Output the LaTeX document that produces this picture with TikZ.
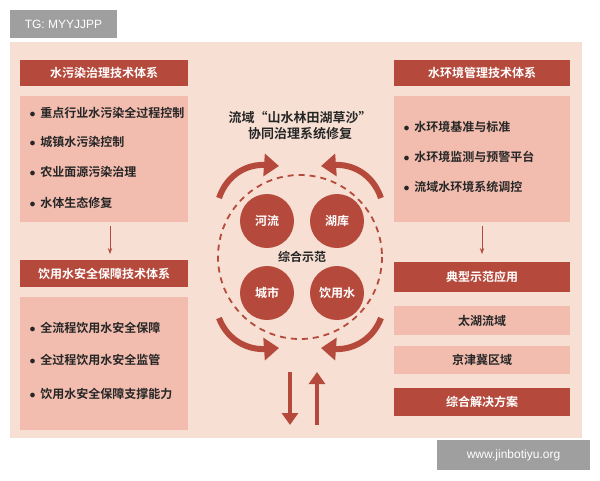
\documentclass[tikz,border=0pt]{standalone}
\usepackage{fontspec}
\setmainfont{Liberation Sans}
\newfontfamily\cjk{Noto Sans CJK SC}[BoldFont={Noto Sans CJK SC Bold}]
\usetikzlibrary{arrows.meta}
\definecolor{darkred}{HTML}{B54A3C}
\definecolor{pinkbox}{HTML}{F2BDAF}
\definecolor{panel}{HTML}{F7E0D3}
\tikzset{
  head/.style={fill=darkred, text=white, font=\cjk\bfseries\fontsize{12}{14}\selectfont},
  item/.style={anchor=west, font=\cjk\bfseries\fontsize{12}{14}\selectfont, text=black!85},
  spot/.style={circle, fill=darkred, minimum size=54pt, inner sep=0pt, text=white, font=\cjk\bfseries\fontsize{12}{14}\selectfont},
  turn/.style={darkred, line width=6pt, -{Triangle[length=15pt,width=22pt]}},
  link/.style={darkred, line width=1pt, -{Stealth[length=6pt]}}
}
\begin{document}
\begin{tikzpicture}[x=1pt,y=-1pt]
    \useasboundingbox (0,0) rectangle (600,480);
    \fill[white] (0,0) rectangle (600,480);
    % Panel and tags
    \fill[panel] (10,42) rectangle (582,438);
    \fill[gray!75] (10,10) rectangle (117,38);
    \node[text=white, font=\fontsize{12}{14}\selectfont] (tag) at (63.5,24) {TG: MYYJJPP};
    \fill[gray!75] (437,440) rectangle (590,470);
    \node[text=white, font=\fontsize{12}{14}\selectfont] (site) at (513.5,455) {www.jinbotiyu.org};

    % Left column
    \fill[darkred] (20,60) rectangle (188,86);
    \node[head, fill=none] (lh1) at (104,73) {水污染治理技术体系};
    \fill[pinkbox] (20,96) rectangle (188,222);
    \foreach \y/\t in {113/重点行业水污染全过程控制, 142/城镇水污染控制, 172/农业面源污染治理, 203/水体生态修复} {
        \node[item] at (26,\y) {$\bullet$\, \t};
    }
    \coordinate (la) at (110,226);
    \coordinate (lb) at (110,254);
    \draw[link] (la) -- (lb);
    \fill[darkred] (20,260) rectangle (188,287);
    \node[head, fill=none] (lh2) at (104,273.5) {饮用水安全保障技术体系};
    \fill[pinkbox] (20,297) rectangle (188,430);
    \foreach \y/\t in {328/全流程饮用水安全保障, 360/全过程饮用水安全监管, 394/饮用水安全保障支撑能力} {
        \node[item] at (26,\y) {$\bullet$\, \t};
    }

    % Right column
    \fill[darkred] (394,60) rectangle (570,86);
    \node[head, fill=none] (rh1) at (482,73) {水环境管理技术体系};
    \fill[pinkbox] (394,96) rectangle (570,222);
    \foreach \y/\t in {127/水环境基准与标准, 157/水环境监测与预警平台, 187/流域水环境系统调控} {
        \node[item] at (400,\y) {$\bullet$\, \t};
    }
    \coordinate (ra) at (482,226);
    \coordinate (rb) at (482,254);
    \draw[link] (ra) -- (rb);
    \fill[darkred] (394,262) rectangle (570,292);
    \node[head, fill=none] (rh2) at (482,277) {典型示范应用};
    \fill[pinkbox] (394,306) rectangle (570,335);
    \node[head, fill=none, text=black!85] (lake) at (482,320.5) {太湖流域};
    \fill[pinkbox] (394,346) rectangle (570,374);
    \node[head, fill=none, text=black!85] (jjj) at (482,360) {京津冀区域};
    \fill[darkred] (394,388) rectangle (570,416);
    \node[head, fill=none] (plan) at (482,402) {综合解决方案};

    % Centre
    \node[font=\cjk\bfseries\fontsize{13}{16}\selectfont, align=center, text=black!85] (title) at (300,126) {流域“山水林田湖草沙”\\协同治理系统修复};
    \draw[darkred, line width=1.8pt, dash pattern=on 6pt off 5pt] (300,257) circle (82);
    \node[spot] (river) at (267,221) {河流};
    \node[spot] (lakes) at (337,221) {湖库};
    \node[spot] (city) at (267,293) {城市};
    \node[spot] (water) at (337,293) {饮用水};
    \node[font=\cjk\bfseries\fontsize{12}{14}\selectfont, text=black!85] (demo) at (302,257) {综合示范};
    \draw[turn] (219,198) .. controls (228,172) and (250,164) .. (279,166);
    \draw[turn] (381,198) .. controls (372,172) and (350,164) .. (321,166);
    \draw[turn] (219,318) .. controls (228,342) and (250,350) .. (279,348);
    \draw[turn] (381,318) .. controls (372,342) and (350,350) .. (321,348);
    \draw[darkred, line width=4pt, -{Triangle[length=12pt,width=16pt]}] (290,372) -- (290,425);
    \draw[darkred, line width=4pt, -{Triangle[length=12pt,width=16pt]}] (317,425) -- (317,372);
\end{tikzpicture}
\end{document}
